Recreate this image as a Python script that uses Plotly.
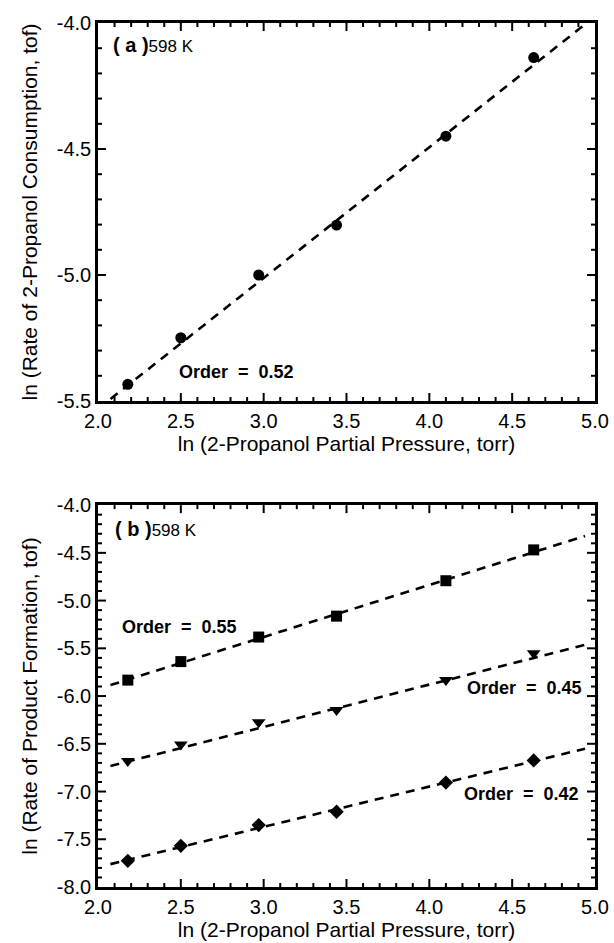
import plotly.graph_objects as go

# ---- data ----
x_pressure = [2.18, 2.50, 2.97, 3.44, 4.10, 4.63]

# panel (a): 2-propanol consumption
y_consumption = [-5.434, -5.249, -5.000, -4.802, -4.449, -4.137]
fit_a_slope, fit_a_icpt = 0.519, -6.569
fit_a_x = [2.0, 5.0]

# panel (b): product formation
y_squares = [-5.833, -5.639, -5.382, -5.163, -4.792, -4.469]
y_triangles = [-6.681, -6.507, -6.274, -6.146, -5.833, -5.552]
y_diamonds = [-7.726, -7.569, -7.351, -7.212, -6.906, -6.674]
fit_sq_slope, fit_sq_icpt = 0.545, -7.016
fit_tri_slope, fit_tri_icpt = 0.443, -7.652
fit_dia_slope, fit_dia_icpt = 0.422, -8.636
fit_b_x = [2.075, 4.94]

x_ticks = [2.0, 2.5, 3.0, 3.5, 4.0, 4.5, 5.0]
x_ticktext = ["2.0", "2.5", "3.0", "3.5", "4.0", "4.5", "5.0"]
y_ticks_a = [-5.5, -5.0, -4.5, -4.0]
y_ticktext_a = ["-5.5", "-5.0", "-4.5", "-4.0"]
y_ticks_b = [-8.0, -7.5, -7.0, -6.5, -6.0, -5.5, -5.0, -4.5, -4.0]
y_ticktext_b = ["-8.0", "-7.5", "-7.0", "-6.5", "-6.0", "-5.5", "-5.0", "-4.5", "-4.0"]

order_labels = ["Order  =  0.52", "Order  =  0.55", "Order  =  0.45", "Order  =  0.42"]

FONT = "Liberation Sans, Arial, sans-serif"

fig = go.Figure()

def line_pts(xs, m, b):
    return xs, [m * v + b for v in xs]

dash_line = dict(color="black", width=2.6, dash="9px,7px")

lx, ly = line_pts(fit_a_x, fit_a_slope, fit_a_icpt)
fig.add_trace(go.Scatter(x=lx, y=ly, mode="lines", line=dash_line, xaxis="x", yaxis="y",
                         showlegend=False, hoverinfo="skip"))
fig.add_trace(go.Scatter(x=x_pressure, y=y_consumption, mode="markers",
                         marker=dict(symbol="circle", size=11, color="black"),
                         xaxis="x", yaxis="y", showlegend=False))

for m, b, ys, sym, sz in [
    (fit_sq_slope, fit_sq_icpt, y_squares, "square", 11),
    (fit_tri_slope, fit_tri_icpt, y_triangles, "triangle-down", 12),
    (fit_dia_slope, fit_dia_icpt, y_diamonds, "diamond", 11),
]:
    lx, ly = line_pts(fit_b_x, m, b)
    fig.add_trace(go.Scatter(x=lx, y=ly, mode="lines", line=dash_line, xaxis="x2", yaxis="y2",
                             showlegend=False, hoverinfo="skip"))
    fig.add_trace(go.Scatter(x=x_pressure, y=ys, mode="markers",
                             marker=dict(symbol=sym, size=sz, color="black"),
                             xaxis="x2", yaxis="y2", showlegend=False))

def axis(lo, hi, vals, text, **kw):
    d = dict(showline=True, linewidth=2.5, linecolor="black", mirror=True,
             ticks="", showgrid=False, zeroline=False, range=[lo, hi],
             tickmode="array", tickvals=vals, ticktext=text,
             tickfont=dict(family=FONT, size=20, color="black"))
    d.update(kw)
    return d

xtitle = "ln (2-Propanol Partial Pressure, torr)"
tfont = dict(family=FONT, size=21, color="black")
fig.update_layout(
    template="none",
    width=614, height=943,
    margin=dict(l=98, r=19, t=23, b=56),
    xaxis=axis(2.0, 5.0, x_ticks, x_ticktext, domain=[0, 1], anchor="y",
               title=dict(text=xtitle, font=tfont, standoff=2)),
    yaxis=axis(-5.5, -4.0, y_ticks_a, y_ticktext_a, domain=[0.5625, 1.0], anchor="x",
               title=dict(text="ln (Rate of 2-Propanol Consumption, tof)", font=tfont, standoff=14)),
    xaxis2=axis(2.0, 5.0, x_ticks, x_ticktext, domain=[0, 1], anchor="y2",
                title=dict(text=xtitle, font=tfont, standoff=2)),
    yaxis2=axis(-8.0, -4.0, y_ticks_b, y_ticktext_b, domain=[0.0, 0.442], anchor="x2",
                title=dict(text="ln (Rate of Product Formation, tof)", font=tfont, standoff=14)),
)

# ---- inward tick marks on all four edges, placed through the axes' own scales ----
def tick_positions(lo, hi):
    n = int(round((hi - lo) / 0.1))
    vals = [round(lo + 0.1 * i, 2) for i in range(1, n)]   # interior positions only
    return vals

def is_major(v):
    return abs(v * 2 - round(v * 2)) < 1e-6

tick_line = dict(color="black", width=2)
shapes = []
for xr, yr, xlo, xhi, ylo, yhi in [("x", "y", 2.0, 5.0, -5.5, -4.0),
                                   ("x2", "y2", 2.0, 5.0, -8.0, -4.0)]:
    for v in tick_positions(xlo, xhi):
        L = 8 if is_major(v) else 4
        shapes.append(dict(type="line", xref=xr, yref=yr, x0=v, x1=v,
                           ysizemode="pixel", yanchor=ylo, y0=0, y1=L, line=tick_line))
        shapes.append(dict(type="line", xref=xr, yref=yr, x0=v, x1=v,
                           ysizemode="pixel", yanchor=yhi, y0=0, y1=-L, line=tick_line))
    for v in tick_positions(ylo, yhi):
        L = 8 if is_major(v) else 4
        shapes.append(dict(type="line", xref=xr, yref=yr, y0=v, y1=v,
                           xsizemode="pixel", xanchor=xlo, x0=0, x1=L, line=tick_line))
        shapes.append(dict(type="line", xref=xr, yref=yr, y0=v, y1=v,
                           xsizemode="pixel", xanchor=xhi, x0=0, x1=-L, line=tick_line))
fig.update_layout(shapes=shapes)

fig.add_annotation(text="<b>( a )</b><span style='font-size:17px'>598 K</span>",
                   xref="x domain", yref="y domain", x=0.026, y=0.942,
                   xanchor="left", yanchor="middle", showarrow=False,
                   font=dict(family=FONT, size=20, color="black"))
fig.add_annotation(text="<b>( b )</b><span style='font-size:17px'>598 K</span>",
                   xref="x2 domain", yref="y2 domain", x=0.030, y=0.937,
                   xanchor="left", yanchor="middle", showarrow=False,
                   font=dict(family=FONT, size=20, color="black"))

ann_font = dict(family=FONT, size=18, color="black")
for txt, xr, yr, xv, yv in [
    (order_labels[0], "x", "y", 2.833, -5.385),
    (order_labels[1], "x2", "y2", 2.489, -5.277),
    (order_labels[2], "x2", "y2", 4.574, -5.916),
    (order_labels[3], "x2", "y2", 4.559, -7.026),
]:
    fig.add_annotation(text="<b>" + txt + "</b>", xref=xr, yref=yr, x=xv, y=yv,
                       showarrow=False, font=ann_font)

fig.write_html("out.html")
